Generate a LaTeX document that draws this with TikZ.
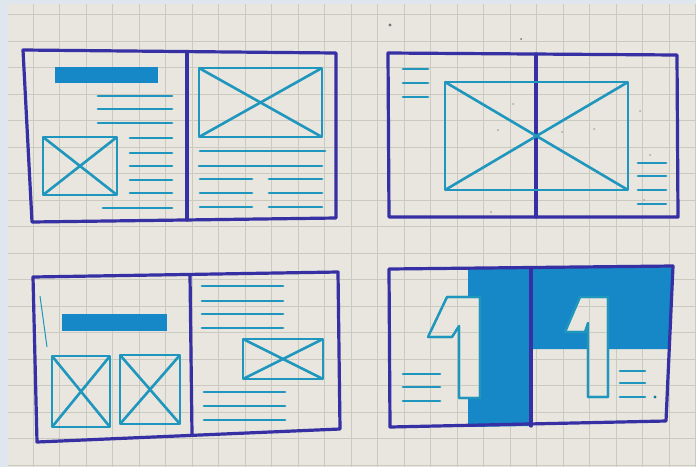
\documentclass[tikz,border=0pt]{standalone}
\definecolor{paper}{RGB}{232,230,222}
\definecolor{edgec}{RGB}{224,230,238}
\definecolor{gridc}{RGB}{203,202,193}
\definecolor{framec}{RGB}{55,48,165}
\definecolor{tealc}{RGB}{30,150,190}
\definecolor{barc}{RGB}{22,136,200}
\tikzset{
  frame/.style={draw=framec, line width=3.2pt, line join=round, line cap=round},
  ln/.style={draw=tealc, line width=2.8pt, line cap=round},
  imgbox/.style={draw=tealc, line width=2.6pt, line join=round},
  bar/.style={fill=barc},
  gridline/.style={draw=gridc, line width=0.6pt},
  numone/.style={draw=tealc, line width=2.2pt, line join=round, fill=paper},
  speck/.style={fill=black!55}
}
\newcommand{\imgx}[4]{%
  \draw[imgbox] (#1,#2) rectangle (#3,#4);
  \draw[imgbox] (#1,#2) -- (#3,#4);
  \draw[imgbox] (#1,#4) -- (#3,#2);
}
\begin{document}
\begin{tikzpicture}[x=1pt,y=-1pt]
\useasboundingbox (0,0) rectangle (696,467);
% paper and grid
\fill[paper] (0,0) rectangle (696,467);
\foreach \i in {0,...,26} \draw[gridline] ({6.5+26.5*\i},0) -- ++(0,467);
\foreach \i in {0,...,17} \draw[gridline] (0,{14.5+26.5*\i}) -- ++(696,0);
\fill[edgec] (0,0) rectangle (8,467);
\fill[edgec] (0,0) rectangle (696,4);

% ---------- Panel 1 (top left) ----------
\draw[frame] (23,50) -- (336,53) -- (336,218) -- (32,222) -- cycle;
\draw[frame] (187,52) -- (187,220);
\fill[bar] (55,67) rectangle (158,83);
\foreach \y in {96,109,123} \draw[ln] (98,\y) -- (172,\y);
\foreach \y in {138,153,166,180,193} \draw[ln] (130,\y) -- (172,\y);
\draw[ln] (103,208) -- (172,208);
\imgx{43}{137}{117}{195}
\imgx{199}{68}{322}{137}
\draw[ln] (200,151) -- (325,151);
\draw[ln] (199,166) -- (322,166);
\foreach \y in {179,193,207} {\draw[ln] (200,\y) -- (252,\y); \draw[ln] (269,\y) -- (322,\y);}

% ---------- Panel 2 (top right) ----------
\draw[frame] (388,53) -- (677,55) -- (678,217) -- (389,217) -- cycle;
\draw[frame] (536,54) -- (536,217);
\foreach \y in {69,83,97} \draw[ln] (403,\y) -- (428,\y);
\imgx{445}{82}{628}{190}
\foreach \y in {163,176,190,204} \draw[ln] (638,\y) -- (666,\y);
\fill[speck] (390,25) circle (1.6);
\fill[speck] (521,39) circle (1);
\foreach \p in {(513,104),(562,132),(498,130),(594,129),(640,111),(650,155),(644,200),(491,212)}
  \fill[black!35] \p circle (1);

% ---------- Panel 3 (bottom left) ----------
\draw[frame] (33,277) -- (338,272) -- (340,429) -- (37,442) -- cycle;
\draw[frame] (190,275) -- (192,434);
\draw[draw=tealc, line width=1pt] (40,296) -- (47,347);
\fill[bar] (62,314) rectangle (167,331);
\imgx{52}{356}{110}{427}
\imgx{120}{355}{180}{424}
\foreach \y in {286,301,314,328} \draw[ln] (202,\y) -- (283,\y);
\imgx{243}{339}{323}{379}
\foreach \y in {392,406,420} \draw[ln] (204,\y) -- (285,\y);

% ---------- Panel 4 (bottom right) ----------
\fill[barc] (468,269) -- (531,268) -- (531,426) -- (468,427) -- cycle;
\fill[barc] (531,268) -- (673,266) -- (670,349) -- (531,349) -- cycle;
\draw[frame] (389,269) -- (673,266) -- (666,421) -- (390,427) -- cycle;
\draw[frame] (531,268) -- (531,426);
% numeral ones
\draw[numone] (447,297) -- (480,297) -- (480,398) -- (459,398) -- (459,326) -- (452,337) -- (428,337) -- cycle;
\begin{scope}
  \clip (447,297) -- (480,297) -- (480,398) -- (459,398) -- (459,326) -- (452,337) -- (428,337) -- cycle;
  \foreach \i in {16,17} \draw[gridline] ({6.5+26.5*\i},290) -- ++(0,115);
  \foreach \i in {11,...,14} \draw[gridline] (420,{14.5+26.5*\i}) -- ++(70,0);
\end{scope}
\draw[numone,fill=none] (447,297) -- (480,297) -- (480,398) -- (459,398) -- (459,326) -- (452,337) -- (428,337) -- cycle;
\draw[numone] (580,297) -- (608,297) -- (608,397) -- (588,397) -- (588,323) -- (585,332) -- (565,332) -- cycle;
\begin{scope}
  \clip (580,297) -- (608,297) -- (608,397) -- (588,397) -- (588,323) -- (585,332) -- (565,332) -- cycle;
  \foreach \i in {21,22} \draw[gridline] ({6.5+26.5*\i},290) -- ++(0,115);
  \foreach \i in {11,...,14} \draw[gridline] (560,{14.5+26.5*\i}) -- ++(60,0);
\end{scope}
\draw[numone,fill=none] (580,297) -- (608,297) -- (608,397) -- (588,397) -- (588,323) -- (585,332) -- (565,332) -- cycle;
\foreach \y in {374,387,401} \draw[ln] (403,\y) -- (440,\y);
\foreach \y in {371,383,397} \draw[ln] (620,\y) -- (645,\y);
\fill[tealc!80!black] (655,397) circle (1.6);
\end{tikzpicture}
\end{document}
